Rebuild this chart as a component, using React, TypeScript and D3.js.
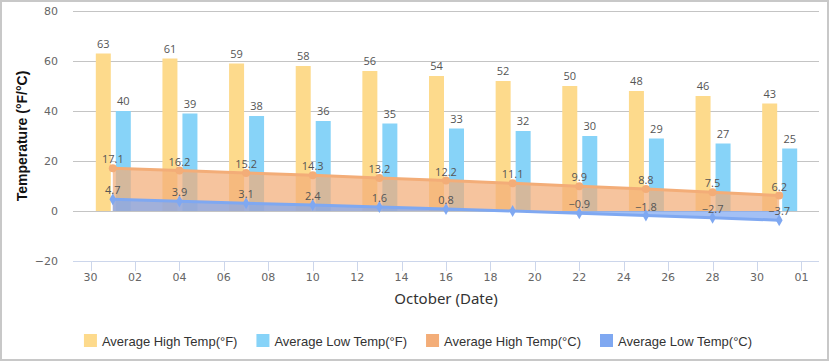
import React, { useEffect, useRef } from "react";
import * as d3 from "d3";

// October averages, one point every three days
const dates = ["2023-10-01", "2023-10-04", "2023-10-07", "2023-10-10", "2023-10-13", "2023-10-16",
    "2023-10-19", "2023-10-22", "2023-10-25", "2023-10-28", "2023-10-31"];
const highF = [63, 61, 59, 58, 56, 54, 52, 50, 48, 46, 43];
const lowF = [40, 39, 38, 36, 35, 33, 32, 30, 29, 27, 25];
const highC = [17.1, 16.2, 15.2, 14.3, 13.2, 12.2, 11.1, 9.9, 8.8, 7.5, 6.2];
const lowC = [4.7, 3.9, 3.1, 2.4, 1.6, 0.8, 0, -0.9, -1.8, -2.7, -3.7];
const yTicks = [-20, 0, 20, 40, 60, 80];
const seriesNames = ["Average High Temp(°F)", "Average Low Temp(°F)", "Average High Temp(°C)", "Average Low Temp(°C)"];
const seriesColors = ["#fdda8c", "#87d3f8", "#f3ad78", "#7fa8f1"];

const W = 830, H = 362;

// negative numbers get a real minus sign
const fmt = (v: number) => (v < 0 ? "\u2212" + Math.abs(v) : String(v));

export default function App() {
    const ref = useRef<SVGSVGElement>(null);

    useEffect(() => {
        const svg = d3.select(ref.current);
        svg.selectAll("*").remove();

        const parse = d3.timeParse("%Y-%m-%d");
        const days = dates.map(d => parse(d) as Date);

        const x = d3.scaleTime()
            .domain([d3.timeHour.offset(days[0], -43), d3.timeHour.offset(days[days.length - 1], 43)])
            .range([73, 819]);
        const y = d3.scaleLinear().domain([-20, 80]).range([261, 11]);
        const inner = d3.scaleBand<number>().domain([0, 1]).range([-17, 18]).paddingInner(0.25);

        // outer frame
        svg.append("rect")
            .attr("x", 1).attr("y", 1).attr("width", W - 3).attr("height", H - 3)
            .attr("fill", "#fff").attr("stroke", "#c8c8c8").attr("stroke-width", 2);

        // grid
        svg.append("g").selectAll("line")
            .data(yTicks.filter(t => t > -20))
            .enter().append("line")
            .attr("x1", 73).attr("x2", 819)
            .attr("y1", d => y(d)).attr("y2", d => y(d))
            .attr("stroke", "#c4c4c4").attr("stroke-width", 1).attr("shape-rendering", "crispEdges");

        svg.append("g").selectAll("text")
            .data(yTicks)
            .enter().append("text")
            .attr("x", 58).attr("y", d => y(d) + 4)
            .attr("text-anchor", "end")
            .style("font", "11px 'DejaVu Sans', Verdana, sans-serif")
            .attr("fill", "#666")
            .text(d => fmt(d));

        // x axis
        const xTicks = d3.timeDay.range(parse("2023-09-30") as Date, parse("2023-11-02") as Date, 2);
        const ax = svg.append("g");
        ax.append("line")
            .attr("x1", 73).attr("x2", 819).attr("y1", y(-20)).attr("y2", y(-20))
            .attr("stroke", "#ccd6eb").attr("shape-rendering", "crispEdges");
        ax.selectAll("line.tick")
            .data(xTicks)
            .enter().append("line")
            .attr("class", "tick")
            .attr("x1", d => Math.round(x(d)) + 0.5).attr("x2", d => Math.round(x(d)) + 0.5)
            .attr("y1", y(-20)).attr("y2", y(-20) + 10)
            .attr("stroke", "#ccd6eb");
        ax.selectAll("text")
            .data(xTicks)
            .enter().append("text")
            .attr("x", d => x(d)).attr("y", y(-20) + 20)
            .attr("text-anchor", "middle")
            .style("font", "11px 'DejaVu Sans', Verdana, sans-serif")
            .attr("fill", "#666")
            .text(d => d3.timeFormat("%d")(d));

        // axis titles
        svg.append("text")
            .attr("transform", `translate(27,${(y(80) + y(-20)) / 2}) rotate(-90)`)
            .attr("text-anchor", "middle")
            .style("font", "bold 14px 'Liberation Sans', Arial, sans-serif")
            .attr("fill", "#111")
            .text("Temperature (°F/°C)");
        svg.append("text")
            .attr("x", 446).attr("y", 304)
            .attr("text-anchor", "middle")
            .style("font", "15px 'Noto Sans', 'Open Sans', sans-serif")
            .attr("fill", "#333")
            .text("October (Date)");

        // bars
        const barSeries = [highF, lowF];
        barSeries.forEach((vals, si) => {
            svg.append("g").selectAll("rect")
                .data(vals)
                .enter().append("rect")
                .attr("x", (d, i) => x(days[i]) + (inner(si) as number))
                .attr("width", inner.bandwidth())
                .attr("y", d => y(d))
                .attr("height", d => y(0) - y(d))
                .attr("fill", seriesColors[si]);
        });

        // areas + lines
        const lineSeries = [highC, lowC];
        const area = d3.area<number>()
            .x((d, i) => x(days[i]))
            .y0(y(0))
            .y1(d => y(d));
        const line = d3.line<number>()
            .x((d, i) => x(days[i]))
            .y(d => y(d));
        lineSeries.forEach((vals, k) => {
            svg.append("path")
                .datum(vals)
                .attr("d", area)
                .attr("fill", seriesColors[k + 2])
                .attr("fill-opacity", 0.72);
        });
        lineSeries.forEach((vals, k) => {
            svg.append("path")
                .datum(vals)
                .attr("d", line)
                .attr("fill", "none")
                .attr("stroke", seriesColors[k + 2])
                .attr("stroke-width", 3);
        });
        svg.append("g").selectAll("circle")
            .data(highC)
            .enter().append("circle")
            .attr("cx", (d, i) => x(days[i])).attr("cy", d => y(d))
            .attr("r", 4)
            .attr("fill", seriesColors[2]);
        svg.append("g").selectAll("path")
            .data(lowC)
            .enter().append("path")
            .attr("d", d3.symbol().type(d3.symbolDiamond).size(40))
            .attr("transform", (d, i) => `translate(${x(days[i])},${y(d)})`)
            .attr("fill", seriesColors[3]);

        // data labels
        const labelFont = "11px 'Open Sans', 'DejaVu Sans', sans-serif";
        barSeries.forEach((vals, si) => {
            svg.append("g").selectAll("text")
                .data(vals)
                .enter().append("text")
                .attr("x", (d, i) => x(days[i]) + (inner(si) as number) + inner.bandwidth() / 2)
                .attr("y", d => y(d) - 6)
                .attr("text-anchor", "middle")
                .style("font", labelFont)
                .attr("fill", "#555")
                .text(d => fmt(d));
        });
        lineSeries.forEach((vals) => {
            svg.append("g").selectAll("text")
                .data(vals)
                .enter().append("text")
                .attr("x", (d, i) => x(days[i]))
                .attr("y", d => y(d) - 5)
                .attr("text-anchor", "middle")
                .style("font", labelFont)
                .attr("fill", "#555")
                .text(d => (d === 0 ? "" : fmt(d)));
        });

        // legend
        const lg = svg.append("g");
        const items = lg.selectAll("g")
            .data(seriesNames)
            .enter().append("g");
        items.append("rect")
            .attr("width", 13).attr("height", 13)
            .attr("y", 334)
            .attr("fill", (d, i) => seriesColors[i]);
        items.append("text")
            .attr("x", 18).attr("y", 346)
            .style("font", "13px 'Liberation Sans', Arial, sans-serif")
            .attr("fill", "#333")
            .text(d => d);
        let offset = 0;
        const widths: number[] = [];
        items.each(function () {
            const t = d3.select(this).select("text").node() as SVGTextElement;
            widths.push(18 + t.getComputedTextLength());
        });
        const gap = 19;
        const total = d3.sum(widths) + gap * (widths.length - 1);
        const start = 418 - total / 2;
        items.attr("transform", (d, i) => {
            const tx = start + offset;
            offset += widths[i] + gap;
            return `translate(${tx},0)`;
        });
    }, []);

    return (
        <svg ref={ref} width={W} height={H} style={{ position: "absolute", left: 0, top: 0 }} />
    );
}
